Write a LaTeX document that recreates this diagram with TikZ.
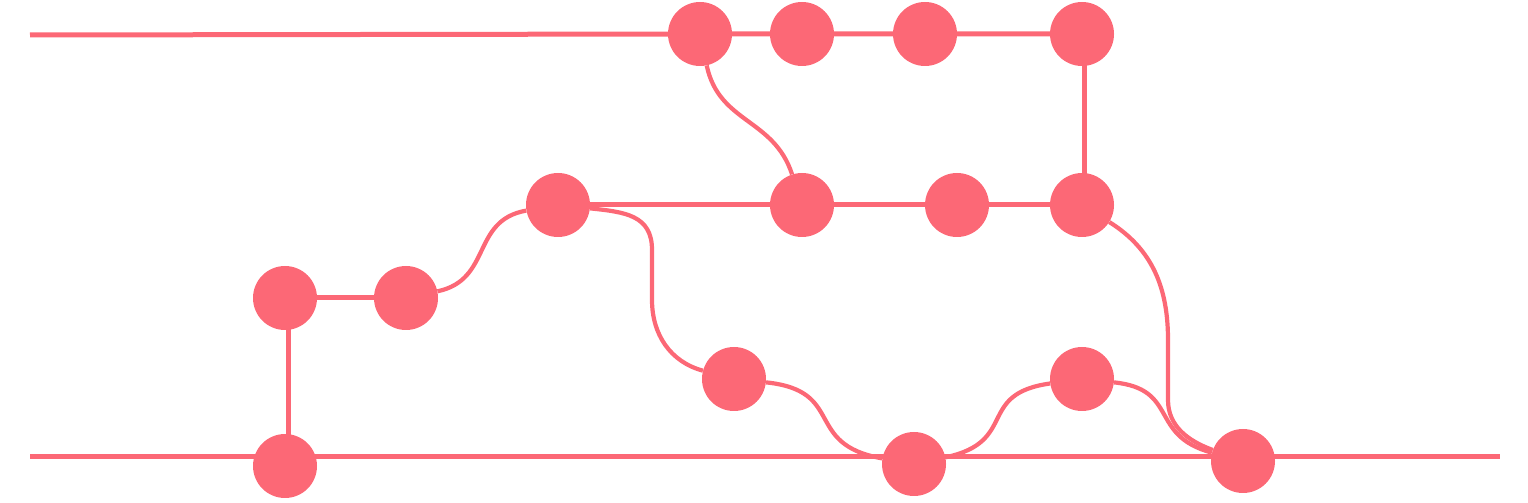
\documentclass[tikz,border=0pt]{standalone}
\usepackage{tikz}
\definecolor{gitpink}{RGB}{252,104,118}
\newcommand{\Frame}{(0,0) rectangle (1528,503)}

\begin{document}
\begin{tikzpicture}[x=1pt,y=1pt,
  commit/.style={circle,fill=gitpink,minimum size=64pt,inner sep=0pt},
  lane/.style={draw=gitpink,line width=5pt},
  merge/.style={draw=gitpink,line width=4.2pt}]
\useasboundingbox \Frame;
% commits
\node[commit] (A1) at (700,469) {};
\node[commit] (A2) at (802,469) {};
\node[commit] (A3) at (925,469) {};
\node[commit] (A4) at (1082,469) {};
\node[commit] (B1) at (558,298) {};
\node[commit] (B2) at (802,298) {};
\node[commit] (B3) at (957,298) {};
\node[commit] (B4) at (1082,298) {};
\node[commit] (C1) at (285,205) {};
\node[commit] (C2) at (406,205) {};
\node[commit] (D1) at (734,124) {};
\node[commit] (D2) at (1082,124) {};
\node[commit] (E1) at (285,37) {};
\node[commit] (E2) at (914,39) {};
\node[commit] (E3) at (1243,42) {};
\coordinate (tl) at (30,468);
\coordinate (bl) at (30,46);
\coordinate (br) at (1500,46);
\coordinate (kB1a) at (652,253);
\coordinate (kB1b) at (652,203);
\coordinate (kB4a) at (1168,163);
\coordinate (kB4b) at (1168,103);
% straight lanes
\draw[lane] (tl) -- (A1) -- (A2) -- (A3) -- (A4);
\draw[lane] (bl) -- (br);
\draw[lane] (B1) -- (B2) -- (B3) -- (B4);
\draw[lane] (C1) -- (C2);
\draw[lane] ([xshift=3pt]C1.center) -- ([xshift=3pt]E1.center);
\draw[lane] ([xshift=2pt]A4.center) -- ([xshift=2pt]B4.center);
% curved links
\draw[merge] (A1) to[out=-78,in=108,looseness=1.1] (B2);
\draw[merge] (C2) to[out=12,in=190,looseness=1.2] (B1);
\draw[merge] (B1) to[out=-6,in=90,looseness=1.2] (kB1a) -- (kB1b) to[out=-90,in=165] (D1);
\draw[merge] (D1) to[out=-6,in=170,looseness=1.5] (E2);
\draw[merge] (E2) to[out=12,in=188,looseness=1.5] (D2);
\draw[merge] (D2) to[out=-6,in=165,looseness=1.4] (E3);
\draw[merge] (B4) to[out=-32,in=90] (kB4a) -- (kB4b) to[out=-90,in=160] (E3);
\end{tikzpicture}
\end{document}
